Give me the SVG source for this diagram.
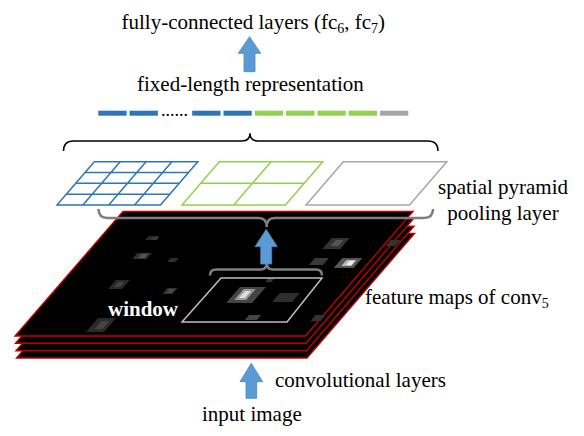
<svg xmlns="http://www.w3.org/2000/svg" width="584" height="436" viewBox="0 0 584 436">
<style>
.t{font-family:"Liberation Serif","Times New Roman",serif;font-size:21px;fill:#000}
.sub{font-size:14px}
.layer{fill:#000;stroke:#c00000;stroke-width:1.4;stroke-linejoin:miter}
.gb{fill:none;stroke:#2e75b6;stroke-width:1.5}
.gg{fill:none;stroke:#92d050;stroke-width:1.5}
.gy{fill:none;stroke:#a6a6a6;stroke-width:1.5}
.arrow{fill:#5b9bd5;stroke:#4a85bd;stroke-width:0.8}
.braceK{fill:none;stroke:#000;stroke-width:1.5}
.braceG{fill:none;stroke:#7f7f7f;stroke-width:2.5}
.seg{stroke:none}
</style>
<rect width="584" height="436" fill="#fff"/>

<g id="feature-maps">
  <polygon class="layer" points="124.5,233.5 414.5,233.5 307,358 16.5,358"/>
  <polygon class="layer" points="124,226.2 414,226.2 306.5,350.7 16,350.7"/>
  <polygon class="layer" points="123.5,218.8 413.5,218.8 306,343.3 15.5,343.3"/>
  <polygon class="layer" points="123,211.5 413,211.5 305.5,336 15,336"/>
  <g id="activations" transform="matrix(1,0,-0.864,1,0,0)">
    <rect x="352.6" y="236" width="10" height="4" fill="#2a2a2a"/>
    <rect x="358.1" y="237" width="6" height="3" fill="#3a3a3a"/>
    <rect x="356.2" y="253" width="14" height="6" fill="#333"/>
    <rect x="361.2" y="254" width="6" height="4" fill="#555"/>
    <rect x="393.6" y="258" width="8" height="4" fill="#2e2e2e"/>
    <rect x="357.8" y="280" width="14" height="9" fill="#2a2a2a"/>
    <rect x="361.8" y="282" width="6" height="5" fill="#444"/>
    <rect x="416.4" y="288" width="10" height="6" fill="#333"/>
    <rect x="419.4" y="289" width="5" height="4" fill="#4a4a4a"/>
    <rect x="372.8" y="318" width="18" height="14" fill="#2a2a2a"/>
    <rect x="378.8" y="321" width="8" height="8" fill="#444"/>
    <rect x="537.4" y="238" width="18" height="11" fill="#333"/>
    <rect x="543" y="240" width="8" height="6" fill="#555"/>
    <rect x="537.9" y="258" width="14" height="7" fill="#3a3a3a"/>
    <rect x="565.2" y="258" width="20" height="10" fill="#555"/>
    <rect x="571.2" y="260" width="10" height="6" fill="#bbb"/>
    <rect x="575.2" y="261" width="5" height="4" fill="#eee"/>
    <rect x="487.9" y="287" width="26" height="16" fill="#444"/>
    <rect x="493.4" y="289" width="12" height="11" fill="#999"/>
    <rect x="496.4" y="291" width="6" height="7" fill="#ddd"/>
    <rect x="508.9" y="278" width="6" height="4" fill="#333"/>
    <rect x="533" y="293" width="20" height="9" fill="#2e2e2e"/>
    <rect x="521.3" y="315" width="12" height="5" fill="#444"/>
    <rect x="587.8" y="315" width="10" height="6" fill="#333"/>
    <rect x="598" y="240" width="10" height="6" fill="#333"/>
  </g>
  <polygon id="window" points="221,278 322,278 287,322 182,322" fill="none" stroke="#bfbfbf" stroke-width="1.5"/>
  <text class="t" x="108" y="316" font-weight="bold" style="fill:#fff">window</text>
</g>

<g id="grid-4x4">
  <polygon class="gb" points="94.3,161.7 197.8,161.7 160.5,205 57,205"/>
  <path class="gb" d="M85,172.5H188.5M75.65,183.35H179.15M66.3,194.2H169.8M120.2,161.7L82.9,205M146.05,161.7L108.75,205M171.9,161.7L134.6,205"/>
</g>
<g id="grid-2x2">
  <polygon class="gg" points="219.3,161.7 322.8,161.7 285.5,205 182,205"/>
  <path class="gg" d="M200.65,183.35H304.15M271.05,161.7L233.75,205"/>
</g>
<g id="grid-1x1">
  <polygon class="gy" points="343.3,161.7 446.8,161.7 409.5,205 306,205"/>
</g>

<g id="representation">
  <rect class="seg" x="98.3" y="110.7" width="28.3" height="5" fill="#2e75b6"/>
  <rect class="seg" x="129.6" y="110.7" width="28.3" height="5" fill="#2e75b6"/>
  <text class="t" x="161" y="115.5" style="font-size:18px">......</text>
  <rect class="seg" x="192.2" y="110.7" width="28.3" height="5" fill="#2e75b6"/>
  <rect class="seg" x="223.5" y="110.7" width="28.3" height="5" fill="#2e75b6"/>
  <rect class="seg" x="254.8" y="110.7" width="28.3" height="5" fill="#92d050"/>
  <rect class="seg" x="286.1" y="110.7" width="28.3" height="5" fill="#92d050"/>
  <rect class="seg" x="317.4" y="110.7" width="28.3" height="5" fill="#92d050"/>
  <rect class="seg" x="348.7" y="110.7" width="28.3" height="5" fill="#92d050"/>
  <rect class="seg" x="380" y="110.7" width="28.3" height="5" fill="#a6a6a6"/>
</g>

<g id="connectors">
  <path class="braceK" d="M63.5,151 Q63.5,141 73.5,141 H242 Q250,141 250,133.3 Q250,141 258,141 H428 Q438,141 438,151"/>
  <path class="braceG" d="M98.5,209 Q98.5,218 107.5,218 H259 Q266.7,218 266.7,227 Q266.7,218 274.5,218 H424 Q433,218 433,209"/>
  <path class="braceG" d="M210,275.5 Q210,269.5 216,269.5 H260.5 Q266.7,269.5 266.7,263 Q266.7,269.5 273,269.5 H316 Q322,269.5 322,275.5"/>
  <polygon class="arrow" points="249.5,36.7 260.7,53.3 255,53.3 255,71.7 244,71.7 244,53.3 238.3,53.3"/>
  <polygon class="arrow" points="266.2,229.3 277.3,246.7 271.7,246.7 271.7,264 260.7,264 260.7,246.7 255,246.7"/>
  <polygon class="arrow" points="251.3,363.3 262.7,381.7 256.7,381.7 256.7,398.3 246,398.3 246,381.7 240,381.7"/>
</g>

<g id="labels">
  <text class="t" x="121.5" y="29">fully-connected layers (fc<tspan class="sub" dy="4">6</tspan><tspan dy="-4">, fc</tspan><tspan class="sub" dy="4">7</tspan><tspan dy="-4">)</tspan></text>
  <text class="t" x="137" y="91">fixed-length representation</text>
  <text class="t" x="503" y="194" text-anchor="middle">spatial pyramid</text>
  <text class="t" x="503" y="220" text-anchor="middle">pooling layer</text>
  <text class="t" x="365" y="304">feature maps of conv<tspan class="sub" dy="4">5</tspan></text>
  <text class="t" x="275" y="387">convolutional layers</text>
  <text class="t" x="202" y="421">input image</text>
</g>
</svg>
